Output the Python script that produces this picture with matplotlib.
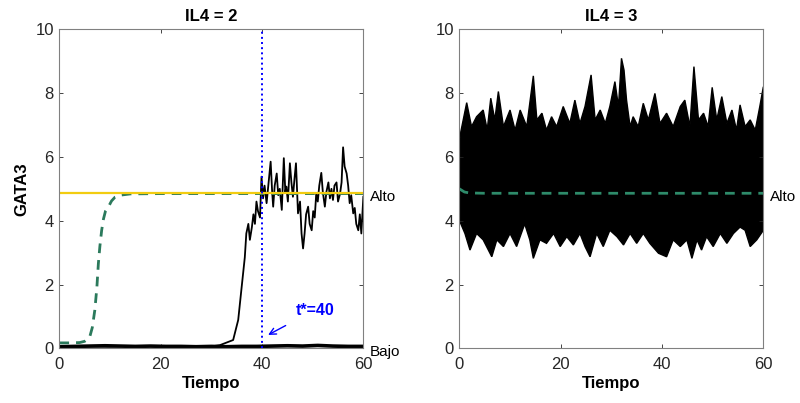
import matplotlib.pyplot as plt
import numpy as np

plt.rcParams['font.family'] = ['Liberation Sans', 'DejaVu Sans']

# ---- left panel (IL4 = 2) ----
# stochastic trajectory that switches to the high state
t_switch = [0, 5, 10, 15, 20, 25, 30, 31.7, 33, 34.3, 35.3, 35.9, 36.6, 36.9, 37.3, 37.6, 38.0, 38.3,
            38.6, 38.9, 39.2, 39.6, 39.9, 40.2, 40.5, 40.9, 41.3, 41.7, 42.0, 42.2, 42.5, 42.9, 43.2,
            43.5, 43.9, 44.3, 44.6, 44.8, 45.1, 45.5, 45.8, 46.1, 46.4, 46.7, 47.1, 47.5, 47.8, 48.1,
            48.4, 48.7, 49.1, 49.4, 49.8, 50.1, 50.4, 50.7, 51.0, 51.3, 51.7, 52.0, 52.4, 52.7, 53.1,
            53.4, 53.7, 54.0, 54.3, 54.7, 55.0, 55.4, 55.7, 56.0, 56.3, 56.7, 57.0, 57.3, 57.6, 58.0,
            58.3, 58.6, 59.0, 59.3, 59.6, 60.0]
x_switch = [0.05, 0.06, 0.05, 0.07, 0.05, 0.06, 0.06, 0.1, 0.18, 0.26, 0.89, 1.8, 2.85, 3.6, 3.9, 3.4,
            3.8, 4.2, 3.9, 4.6, 4.3, 4.1, 5.38, 4.7, 5.1, 4.55, 5.2, 5.85, 4.9, 4.44, 5.1, 5.48, 4.8,
            5.0, 4.34, 5.96, 4.9, 5.07, 4.6, 5.8, 5.2, 4.75, 5.3, 5.8, 4.23, 4.6, 3.6, 3.13, 3.6,
            4.2, 4.44, 3.9, 3.7, 4.3, 4.1, 4.85, 4.6, 5.1, 5.5, 4.9, 4.44, 4.9, 5.2, 4.7, 5.0, 4.65,
            5.1, 5.2, 4.6, 4.85, 5.2, 6.3, 5.7, 5.48, 5.1, 4.55, 4.8, 4.23, 4.4, 3.9, 3.7, 4.2, 3.6, 4.75]
# trajectories that stay in the low state
t_low = [0, 3, 6, 9, 12, 15, 18, 21, 24, 27, 30, 33, 36, 39, 42, 45, 48, 51, 54, 57, 60]
x_low = [0.05, 0.06, 0.07, 0.08, 0.07, 0.06, 0.07, 0.06, 0.06, 0.05, 0.06, 0.05, 0.06, 0.06, 0.07,
         0.08, 0.07, 0.09, 0.07, 0.06, 0.06]
# deterministic curve
t_det2 = [0, 2, 4, 5, 5.5, 6, 6.5, 7, 7.4, 7.7, 8.0, 8.35, 8.7, 9.1, 9.7, 10.3, 11, 12, 14, 20, 40, 60]
x_det2 = [0.17, 0.17, 0.18, 0.22, 0.28, 0.36, 0.65, 1.2, 1.9, 2.66, 3.2, 3.7, 4.05, 4.3, 4.44, 4.62,
          4.74, 4.8, 4.84, 4.85, 4.85, 4.85]
x_alto = 4.86
t_star = 40

# ---- right panel (IL4 = 3) ----
t_up = [0, 0.3, 1.45, 2.4, 3.4, 4.7, 5.5, 6.2, 7.0, 7.7, 8.7, 10, 11, 12, 13.3, 14.6, 15.3, 16.3, 17.2,
        18.2, 19.2, 20.5, 21.8, 22.8, 23.8, 24.8, 26.0, 26.8, 27.8, 28.8, 29.7, 30.7, 31.4, 32.0, 32.5,
        33.0, 33.7, 34.3, 35.3, 36.3, 37.3, 38.6, 39.6, 40.9, 42.2, 43.6, 44.5, 45.5, 46.3, 47.2, 48.2,
        49.1, 49.9, 50.8, 51.8, 52.8, 53.8, 54.7, 55.4, 56.4, 57.4, 58.4, 59.3, 60]
x_up = [6.4, 6.8, 7.7, 6.95, 7.26, 7.47, 6.85, 7.84, 7.16, 8.05, 6.95, 7.47, 6.84, 7.47, 6.95, 8.54,
        7.16, 7.37, 6.84, 7.26, 6.95, 7.58, 7.05, 7.78, 7.05, 7.58, 8.57, 7.16, 7.47, 7.05, 7.58, 8.36,
        7.58, 9.09, 8.72, 7.78, 6.95, 7.26, 6.95, 7.68, 7.16, 7.99, 7.05, 7.37, 6.95, 7.58, 7.78, 6.95,
        8.83, 7.16, 7.37, 6.95, 8.18, 7.16, 7.89, 7.05, 7.47, 6.84, 7.63, 6.95, 7.16, 6.84, 7.58, 8.2]
t_lo = [0, 0.3, 1.1, 2.1, 3.4, 4.7, 6.4, 7.4, 8.7, 10, 11.3, 12.9, 13.9, 14.6, 15.9, 17.2, 18.6, 19.9,
        21.2, 22.5, 23.8, 24.8, 25.8, 27.1, 28.4, 29.7, 31.1, 32.4, 33.7, 35.0, 36.3, 37.6, 39.3, 40.9,
        42.2, 43.6, 44.9, 45.9, 46.9, 47.8, 48.8, 50.1, 51.5, 52.8, 54.1, 55.4, 56.4, 57.4, 58.7, 60]
x_lo = [4.0, 3.9, 3.6, 3.08, 3.6, 3.4, 2.87, 3.4, 3.19, 3.6, 3.19, 3.9, 3.4, 2.82, 3.4, 3.29, 3.6, 3.19,
        3.5, 3.24, 3.6, 3.19, 2.87, 3.6, 3.19, 3.7, 3.5, 3.24, 3.6, 3.29, 3.6, 3.29, 2.98, 2.87, 3.4,
        3.19, 3.4, 2.82, 3.4, 3.08, 3.5, 3.19, 3.6, 3.29, 3.6, 3.8, 3.7, 3.19, 3.4, 3.7]
t_det3 = [0, 0.5, 1, 2, 5, 20, 40, 60]
x_det3 = [5.0, 4.95, 4.9, 4.87, 4.86, 4.86, 4.86, 4.86]

green = '#2b7a5c'
edge = '#262626'

fig = plt.figure(figsize=(8, 4.03), dpi=100)
ax1 = fig.add_axes([0.0742, 0.1357, 0.38, 0.7916])
ax2 = fig.add_axes([0.5742, 0.1357, 0.38, 0.7916])

# left
ax1.plot(t_low, x_low, color='black', linewidth=2.6)
ax1.plot(t_switch, x_switch, color='black', linewidth=1.3)
ax1.plot(t_det2, x_det2, color=green, linestyle=(0, (3.5, 2.5)), linewidth=2)
ax1.axhline(x_alto, color='#f2cc10', linewidth=1.6)
ax1.axvline(t_star, color='blue', linestyle=':', linewidth=1.4)
ax1.annotate('t*=%d' % t_star, xy=(t_star + 1.2, 0.42), xytext=(50.4, 1.2),
             color='blue', fontsize=11.5, fontweight='bold', ha='center', va='center',
             arrowprops=dict(arrowstyle='->', color='blue', lw=1.0, shrinkA=8, shrinkB=0))
ax1.text(61.3, x_alto - 0.12, 'Alto', fontsize=11, va='center', ha='left')
ax1.text(61.3, -0.12, 'Bajo', fontsize=11, va='center', ha='left')
ax1.set_title('IL4 = 2', fontsize=12, fontweight='bold', pad=6)
ax1.set_ylabel('GATA3', fontsize=12, fontweight='bold', labelpad=4)

# right: envelope of the many stochastic trajectories
band_t = t_up + t_lo[::-1]
band_x = x_up + x_lo[::-1]
ax2.fill(band_t, band_x, facecolor='black', edgecolor='black', linewidth=1.0)
ax2.plot(t_det3, x_det3, color='#2e8b6a', linestyle=(0, (3.5, 2.5)), linewidth=2)
ax2.text(61.3, x_alto - 0.12, 'Alto', fontsize=11, va='center', ha='left')
ax2.set_title('IL4 = 3', fontsize=12, fontweight='bold', pad=6)

for ax in (ax1, ax2):
    ax.set_xlim(0, 60)
    ax.set_ylim(0, 10)
    ax.set_xticks([0, 20, 40, 60])
    ax.set_yticks([0, 2, 4, 6, 8, 10])
    ax.tick_params(direction='in', top=True, right=True, labelsize=12, colors=edge, length=3,
                   width=0.6)
    ax.tick_params(axis='x', pad=6)
    ax.tick_params(axis='y', pad=4)
    for s in ax.spines.values():
        s.set_color('#808080')
        s.set_linewidth(0.8)
    ax.set_xlabel('Tiempo', fontsize=12, fontweight='bold', labelpad=3)

plt.savefig('out.png', dpi=100)
